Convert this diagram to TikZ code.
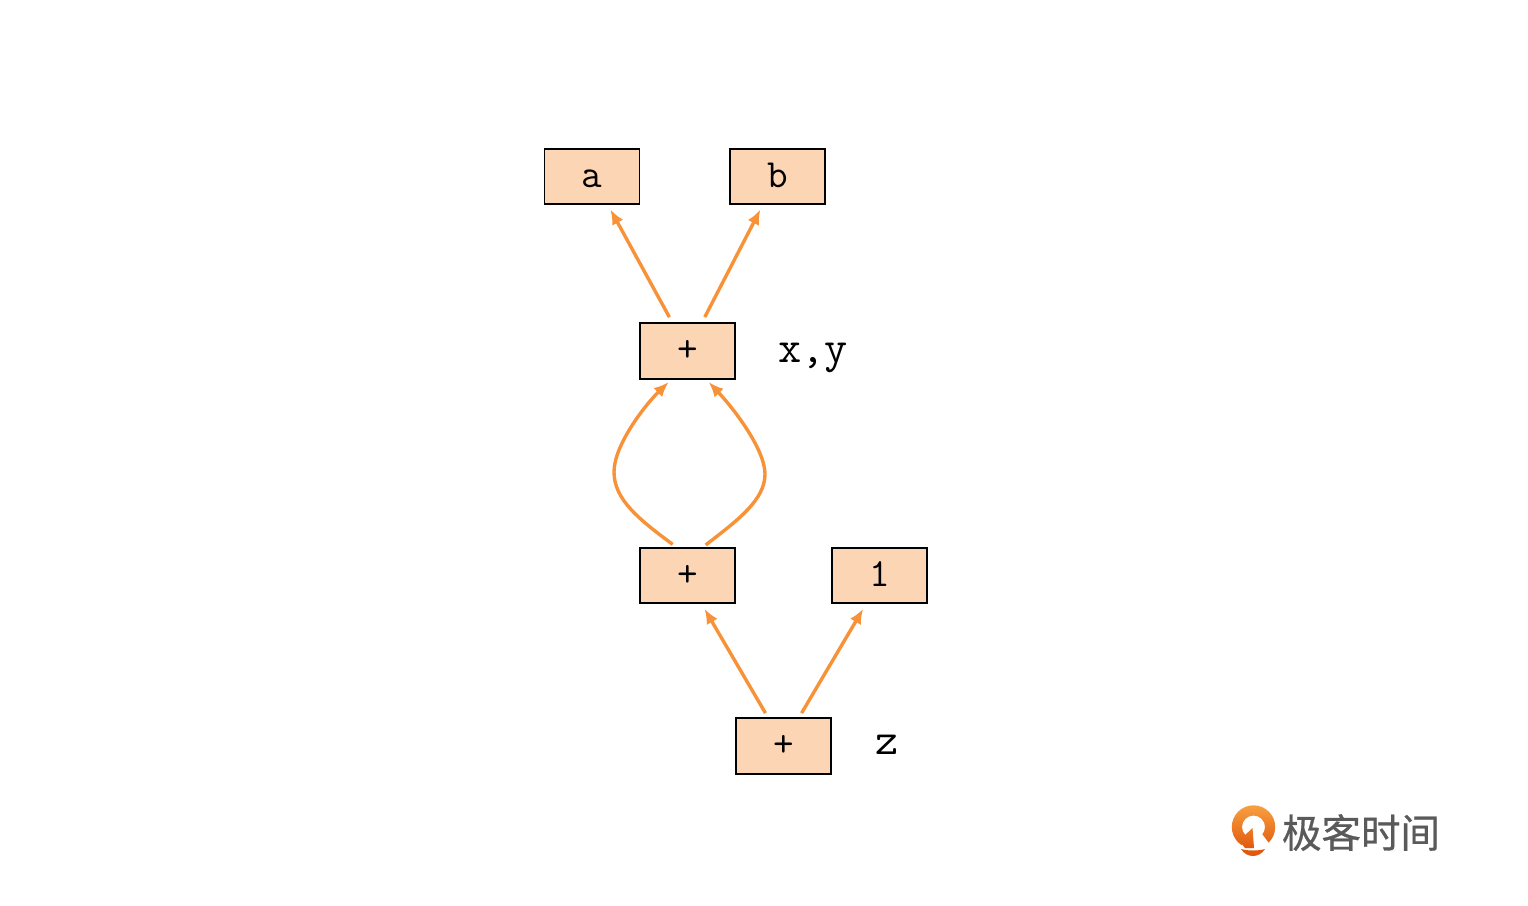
\documentclass[tikz,border=0pt]{standalone}
\usepackage{fontspec}
\newfontfamily\cjk[FakeBold=0.7]{Noto Sans CJK SC}
\definecolor{boxfill}{HTML}{FCD5B5}
\definecolor{conn}{HTML}{F79238}
\definecolor{logotop}{HTML}{F7A040}
\definecolor{logobot}{HTML}{E2590E}
\definecolor{logotext}{HTML}{5A5A5A}
\usetikzlibrary{arrows.meta}
\tikzset{
  opbox/.style={draw=black,fill=boxfill,line width=1.6pt,minimum width=95pt,minimum height=55.5pt,inner sep=0pt,text height=21pt,text depth=0pt,font=\ttfamily\fontsize{40}{40}\selectfont},
  lbl/.style={inner sep=0pt,anchor=base,font=\ttfamily\fontsize{45}{45}\selectfont,text=black},
  link/.style={draw=conn,line width=3.4pt,-{Latex[length=15pt,width=12.5pt]}}
}
\begin{document}
\begin{tikzpicture}[x=1pt,y=-1pt]
\useasboundingbox (0,0) rectangle (1528,905);
\node[opbox] (a) at (592,176.5) {a};
\node[opbox] (b) at (777.7,176.5) {b};
\node[opbox] (top) at (687.7,351) {+};
\node[opbox] (mid) at (687.7,575.5) {+};
\node[opbox] (one) at (879.5,575.5) {1};
\node[opbox] (bot) at (783.5,746) {+};
\node[lbl] (xy) at (813,362) {x,y};
\node[lbl] (z) at (887,754) {z};
\draw[link,shorten <=6pt,shorten >=5pt] ([xshift=-15.4pt]top.north) -- ([xshift=16pt]a.south);
\draw[link,shorten <=6pt,shorten >=5pt] ([xshift=14.3pt]top.north) -- ([xshift=-15pt]b.south);
\draw[link,shorten <=5pt,shorten >=5.5pt] ([xshift=-15.5pt]bot.north) -- ([xshift=14pt]mid.south);
\draw[link,shorten <=5pt,shorten >=5.5pt] ([xshift=15.5pt]bot.north) -- ([xshift=-13.5pt]one.south);
\draw[link] ([xshift=-15pt,yshift=2.5pt]mid.north) .. controls (640,520) and (614,500) .. (614,472) .. controls (614,445) and (645,405) .. ([xshift=-19pt,yshift=-2.5pt]top.south);
\draw[link] ([xshift=18pt,yshift=2pt]mid.north) .. controls (738,520) and (765,500) .. (765,474) .. controls (765,450) and (735,410) .. ([xshift=21pt,yshift=-2.5pt]top.south);
% logo
\shade[top color=logotop,bottom color=logobot,even odd rule] (1253.5,827) circle[radius=21.7] (1253.5,827) circle[radius=11.5];
\fill[white] (1253,827) -- (1262,834) -- (1274,850) -- (1240,850) -- (1244,838) -- cycle;
\shade[top color=logotop!50!logobot,bottom color=logobot] (1252.5,828) -- (1254,848) -- (1245,848) -- (1241,843) -- (1244,836) -- cycle;
\path[fill=logobot] (1241,849) .. controls (1248,851) and (1258,851) .. (1265,849) .. controls (1262,854) and (1257,856) .. (1253,856) .. controls (1249,856) and (1244,854) .. (1241,849) -- cycle;
\node[inner sep=0pt,text=logotext,font=\cjk\fontsize{39.5}{39.5}\selectfont] (logo) at (1361,832.5) {极客时间};
\end{tikzpicture}
\end{document}
